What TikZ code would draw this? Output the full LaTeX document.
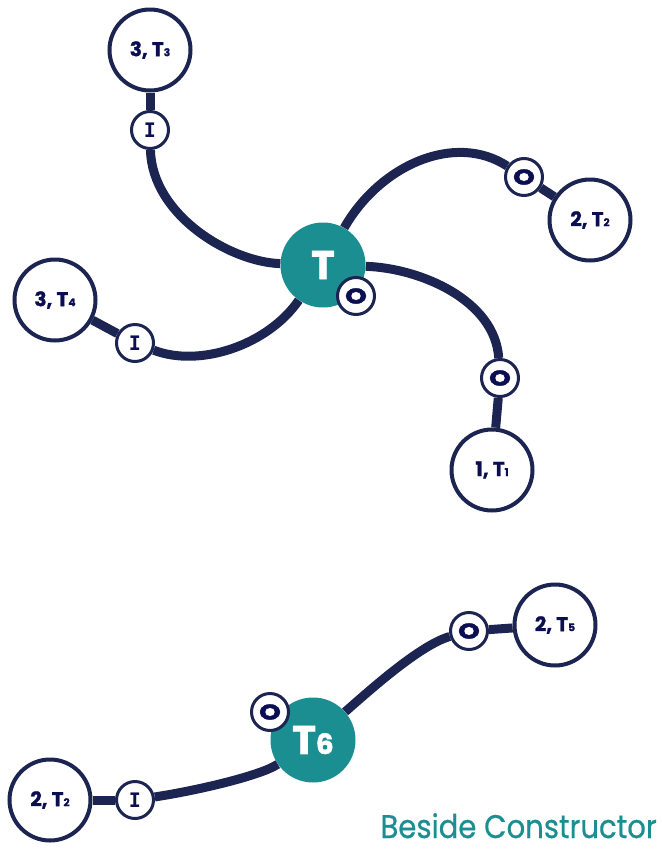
\documentclass[tikz,border=0pt]{standalone}
\usepackage{fontspec}
\usepackage{graphicx}
\setmainfont{Poppins}
\setmonofont{DejaVu Sans Mono}
\usetikzlibrary{positioning}

\definecolor{navy}{HTML}{1C2451}
\definecolor{ink}{HTML}{0B0F52}
\definecolor{tealfill}{HTML}{1A8E91}

\newcommand{\idx}[1]{{\fontsize{8}{8}\selectfont #1}}
\newcommand{\outp}{\scalebox{1.3}[1]{O}}
\newcommand{\inp}{{\ttfamily\bfseries\fontsize{15}{15}\selectfont I}}

\tikzset{
    task/.style={circle, draw=navy, line width=3pt, fill=white, minimum size=60.75pt, inner sep=0pt,
        text=ink, font=\bfseries\fontsize{15}{15}\selectfont\addfontfeature{FakeBold=1.2}},
    port/.style={circle, draw=navy, line width=2.25pt, fill=white, minimum size=27.75pt, inner sep=0pt,
        text=ink, font=\bfseries\fontsize{16}{16}\selectfont\addfontfeature{FakeBold=1.8}},
    hub/.style={circle, fill=tealfill, minimum size=63.75pt, inner sep=0pt,
        text=white, font=\bfseries\fontsize{30}{30}\selectfont\addfontfeature{FakeBold=1.5}},
    wire/.style={navy, line width=6.75pt},
}

\begin{document}
\begin{tikzpicture}[x=0.75pt, y=-0.75pt]
        \useasboundingbox (0,0) rectangle (661,850);

        % upper group
        \node (T) [hub] at (323,265) {T};
        \node (OT) [port] at (356,296) {\outp};
        \node (T3) [task] at (150,50) {3, T\idx{3}};
        \node (I3) [port] at (150,130) {\inp};
        \node (T2) [task] at (590,220) {2, T\idx{2}};
        \node (O2) [port] at (524,177) {\outp};
        \node (T4) [task] at (55,300) {3, T\idx{4}};
        \node (I4) [port] at (135,343) {\inp};
        \node (T1) [task] at (492,470) {1, T\idx{1}};
        \node (O1) [port] at (500,378) {\outp};

        \draw[wire] (T3) -- (I3);
        \draw[wire] (I3) .. controls (152,215) and (230,262) .. (T);
        \draw[wire] (T) .. controls (420,268) and (495,300) .. (O1);
        \draw[wire] (O1) -- (T1);
        \draw[wire] (T4) -- (I4);
        \draw[wire] (I4) .. controls (200,368) and (268,345) .. (T);
        \draw[wire] (T) .. controls (380,165) and (455,132) .. (O2);
        \draw[wire] (O2) -- (T2);

        % lower group
        \node (T6) [hub] at (313,740) {T{\fontsize{21}{21}\selectfont 6}};
        \node (OT6) [port] at (270,712) {\outp};
        \node (T5) [task] at (555,625) {2, T\idx{5}};
        \node (O5) [port] at (469,631) {\outp};
        \node (T2b) [task] at (50,800) {2, T\idx{2}};
        \node (I2b) [port] at (135,800) {\inp};

        \draw[wire] (T2b) -- (I2b);
        \draw[wire] (I2b) .. controls (200,790) and (262,775) .. (T6);
        \draw[wire] (T6) .. controls (370,690) and (420,645) .. (O5);
        \draw[wire] (O5) -- (T5);

        \node (caption) [anchor=base east, inner sep=0pt, text=tealfill,
            font=\fontsize{24.5}{24.5}\selectfont\addfontfeature{FakeBold=0.6}] at (657,838) {\scalebox{0.89}[1]{Beside Constructor}};
    \end{tikzpicture}
\end{document}
